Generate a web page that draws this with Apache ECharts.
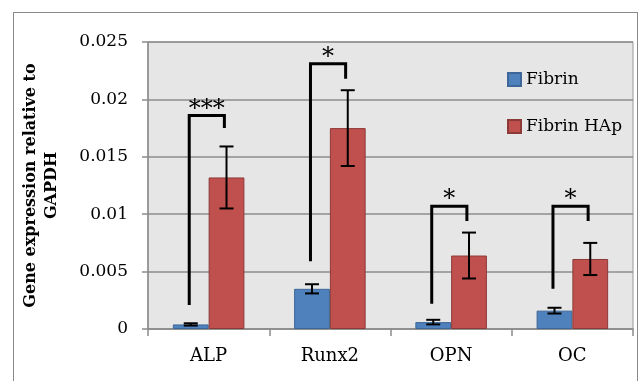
<!DOCTYPE html>
<html>
<head>
<meta charset="utf-8">
<script src="https://cdn.jsdelivr.net/npm/echarts@6/dist/echarts.min.js"></script>
<style>
  html, body { margin: 0; padding: 0; background: #fff; }
  #frame {
    position: absolute; left: 13px; top: 12px; width: 625px; height: 400px;
    border: 1.5px solid #8a8a8a; box-sizing: border-box;
  }
  #chart { position: absolute; left: 0; top: 0; width: 638px; height: 381px; }
</style>
</head>
<body>
<div id="frame"></div>
<div id="chart"></div>
<script>
// data
const genes = ['ALP', 'Runx2', 'OPN', 'OC'];
const fibrin = [0.0004, 0.0035, 0.0006, 0.0016];
const fibrinErr = [0.0001, 0.0004, 0.0002, 0.00025];
const fibrinHAp = [0.0132, 0.0175, 0.0064, 0.0061];
const fibrinHApErr = [0.0027, 0.0033, 0.002, 0.0014];
// significance brackets: left leg bottom, top bar, right leg bottom
const sigLow = [0.0021, 0.0059, 0.0022, 0.0035];
const sigTop = [0.0186, 0.0231, 0.0107, 0.0107];
const sigRight = [0.0175, 0.0218, 0.0094, 0.0094];
const sigLabels = ['***', '*', '*', '*'];

const chart = echarts.init(document.getElementById('chart'));

const serif = 'DejaVu Serif';

function errorItem(side) {
    return function (params, api) {
        const i = api.value(0);
        const band = api.size([1, 0])[0];
        const off = side * band * 0.59 / 4;
        const hi = api.coord([i, api.value(1) + api.value(2)]);
        const lo = api.coord([i, api.value(1) - api.value(2)]);
        const x = hi[0] + off;
        const cap = 7;
        const st = {stroke: '#000', lineWidth: 2};
        return {
            type: 'group',
            children: [
                {type: 'line', shape: {x1: x, y1: hi[1], x2: x, y2: lo[1]}, style: st},
                {type: 'line', shape: {x1: x - cap, y1: hi[1], x2: x + cap, y2: hi[1]}, style: st},
                {type: 'line', shape: {x1: x - cap, y1: lo[1], x2: x + cap, y2: lo[1]}, style: st}
            ]
        };
    };
}

const option = {
    animation: false,
    textStyle: {fontFamily: serif},
    grid: {
        left: 148, top: 42, right: 5, bottom: 52,
        show: true, backgroundColor: '#e6e6e6', borderColor: '#9a9a9a', borderWidth: 1
    },
    legend: {
        orient: 'vertical',
        left: 502, top: 66,
        itemWidth: 13, itemHeight: 13, itemGap: 30,
        icon: 'rect',
        textStyle: {fontFamily: serif, fontSize: 17, color: '#000'},
        data: ['Fibrin', 'Fibrin HAp']
    },
    xAxis: {
        type: 'category',
        data: genes,
        axisLine: {lineStyle: {color: '#8c8c8c', width: 1.5}},
        axisTick: {show: true, length: 7, lineStyle: {color: '#8c8c8c', width: 1.5}},
        axisLabel: {fontFamily: serif, fontSize: 18, color: '#000', margin: 18}
    },
    yAxis: {
        type: 'value',
        min: 0, max: 0.025, interval: 0.005,
        name: 'Gene expression relative to\nGAPDH',
        nameLocation: 'middle',
        nameGap: 86,
        nameTextStyle: {fontFamily: serif, fontSize: 16, fontWeight: 'bold', color: '#000', lineHeight: 21},
        axisLine: {show: true, lineStyle: {color: '#8c8c8c', width: 1.5}},
        axisTick: {show: true, length: 6, lineStyle: {color: '#8c8c8c', width: 1.5}},
        axisLabel: {fontFamily: serif, fontSize: 17, color: '#000', margin: 20},
        splitLine: {lineStyle: {color: '#8c8c8c', width: 1.5}}
    },
    series: [
        {
            name: 'Fibrin', type: 'bar', data: fibrin,
            barGap: '0%', barCategoryGap: '41%',
            itemStyle: {color: '#4f81bd', borderColor: '#3c6798', borderWidth: 1}
        },
        {
            name: 'Fibrin HAp', type: 'bar', data: fibrinHAp,
            barGap: '0%', barCategoryGap: '41%',
            itemStyle: {color: '#c0504d', borderColor: '#8c3a38', borderWidth: 1}
        },
        {
            type: 'custom', renderItem: errorItem(-1), z: 5,
            data: fibrin.map((v, i) => [i, v, fibrinErr[i]])
        },
        {
            type: 'custom', renderItem: errorItem(1), z: 5,
            data: fibrinHAp.map((v, i) => [i, v, fibrinHApErr[i]])
        },
        {
            type: 'custom', z: 6,
            data: genes.map((g, i) => [i, sigLow[i], sigTop[i], sigRight[i]]),
            renderItem: function (params, api) {
                const i = api.value(0);
                const band = api.size([1, 0])[0];
                const pLow = api.coord([i, api.value(1)]);
                const pTop = api.coord([i, api.value(2)]);
                const pRight = api.coord([i, api.value(3)]);
                const lx = pLow[0] - band * 0.16;
                const rx = pLow[0] + band * 0.13;
                return {
                    type: 'group',
                    children: [
                        {
                            type: 'polyline',
                            shape: {points: [[lx, pLow[1]], [lx, pTop[1]], [rx, pTop[1]], [rx, pRight[1]]]},
                            style: {stroke: '#000', lineWidth: 3, fill: null}
                        },
                        {
                            type: 'text',
                            style: {
                                x: (lx + rx) / 2, y: pTop[1] + 6,
                                text: sigLabels[params.dataIndex],
                                fontFamily: serif, fontSize: 24, fill: '#000',
                                align: 'center', verticalAlign: 'bottom'
                            }
                        }
                    ]
                };
            }
        }
    ]
};

chart.setOption(option);
</script>
</body>
</html>
